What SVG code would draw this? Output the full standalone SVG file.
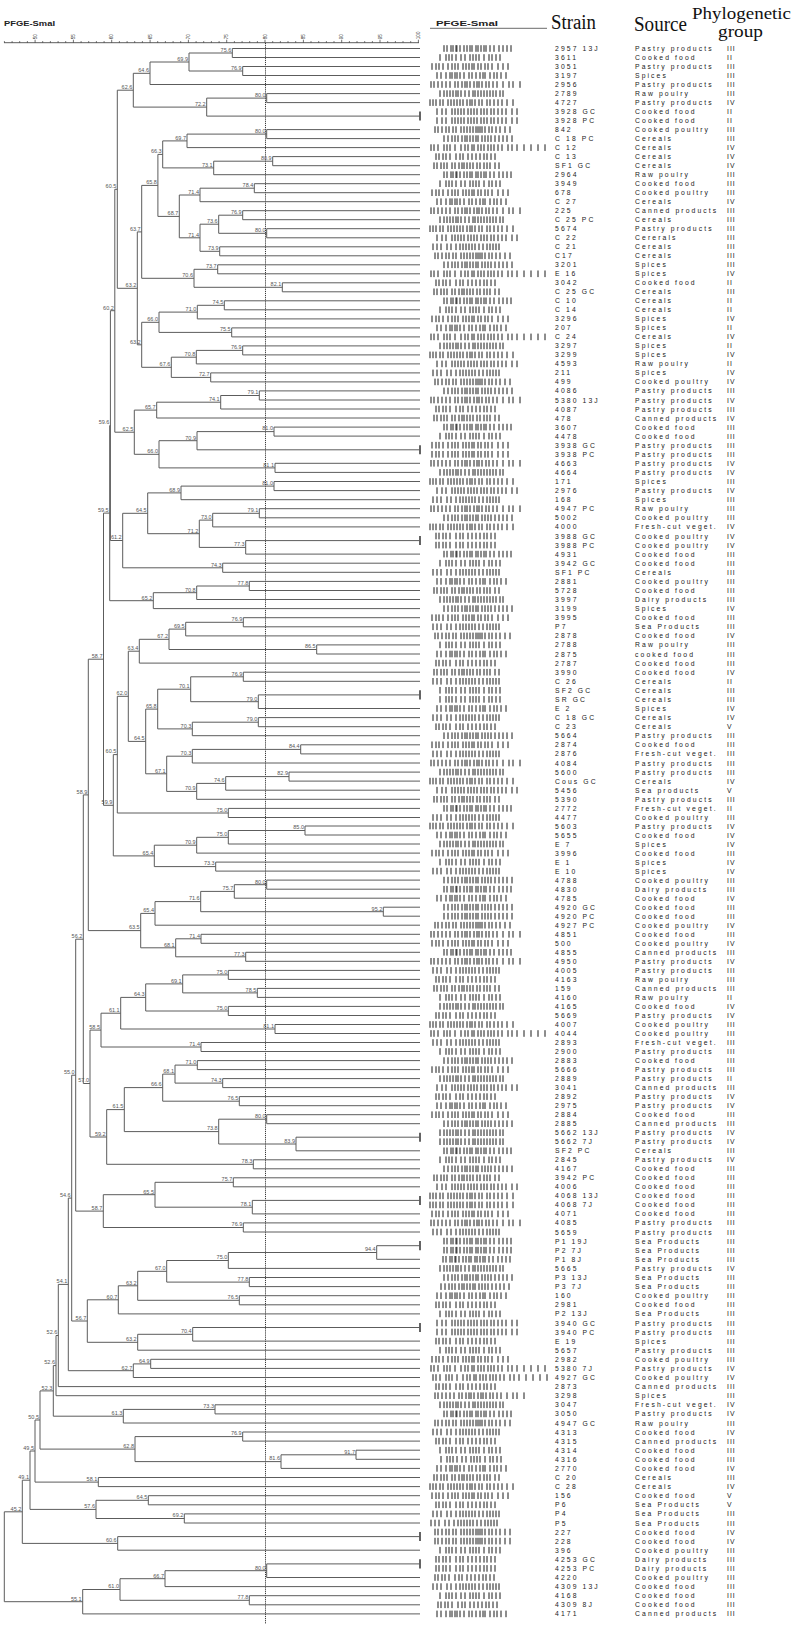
<svg xmlns="http://www.w3.org/2000/svg" width="795" height="1628" viewBox="0 0 795 1628">
<style>
.l{font:5.5px "Liberation Sans",Arial,sans-serif;fill:#555;text-anchor:end}
.tk{font:4.6px "Liberation Sans",Arial,sans-serif;fill:#333}
.hd{font-family:"Liberation Serif","Times New Roman",serif;font-size:20.5px;fill:#111}
.hs{font-family:"Liberation Serif","Times New Roman",serif;font-size:17.5px;fill:#111}
.pf{font:bold 6.6px "Liberation Sans",Arial,sans-serif;fill:#222}
#connectors path{fill:none;stroke:#5c5c5c;stroke-width:1}
#connectors .pb{stroke:#111;stroke-width:1.3}
.bd{fill:none;stroke:#1a1a1a;stroke-width:1}
#rows text{font-family:"Liberation Sans",Arial,sans-serif;font-size:6.8px;letter-spacing:2.1px;fill:#222;dominant-baseline:central}
#rows text:nth-of-type(3){letter-spacing:1px}
</style>
<defs>
<path id="p0" class="bd" d="M434-3.3v6.6M437-3.3v6.6M441-3.3v6.6M444-3.3v6.6M447-3.3v6.6M452-3.3v6.6M455-3.3v6.6M459-3.3v6.6M462-3.3v6.6M464-3.3v6.6M467-3.3v6.6M470-3.3v6.6M473-3.3v6.6M477-3.3v6.6M480-3.3v6.6M484-3.3v6.6M487-3.3v6.6M490-3.3v6.6M495-3.3v6.6M499-3.3v6.6"/>
<path id="p1" class="bd" d="M444-3.3v6.6M447-3.3v6.6M451-3.3v6.6M453-3.3v6.6M456-3.3v6.6M456.9-3.3v6.6M460-3.3v6.6M464-3.3v6.6M467-3.3v6.6M470-3.3v6.6M472-3.3v6.6M476-3.3v6.6M478-3.3v6.6M481-3.3v6.6M484-3.3v6.6M486-3.3v6.6M490-3.3v6.6M494-3.3v6.6M499-3.3v6.6M503-3.3v6.6M507-3.3v6.6M511-3.3v6.6"/>
<path id="p2" class="bd" d="M440-3.3v6.6M446-3.3v6.6M449-3.3v6.6M452-3.3v6.6M456-3.3v6.6M461-3.3v6.6M465-3.3v6.6M470-3.3v6.6M473-3.3v6.6M476-3.3v6.6M479-3.3v6.6M484-3.3v6.6M489-3.3v6.6M492-3.3v6.6M496-3.3v6.6M500-3.3v6.6"/>
<path id="p3" class="bd" d="M432-3.3v6.6M436-3.3v6.6M439-3.3v6.6M443-3.3v6.6M448-3.3v6.6M452-3.3v6.6M455-3.3v6.6M458-3.3v6.6M463-3.3v6.6M466-3.3v6.6M469-3.3v6.6M472-3.3v6.6M474-3.3v6.6M478-3.3v6.6M481-3.3v6.6M485-3.3v6.6M488-3.3v6.6M492-3.3v6.6M498-3.3v6.6M503-3.3v6.6M508-3.3v6.6"/>
<path id="p4" class="bd" d="M437-3.3v6.6M441-3.3v6.6M446-3.3v6.6M450-3.3v6.6M452-3.3v6.6M455-3.3v6.6M457-3.3v6.6M460-3.3v6.6M464-3.3v6.6M469-3.3v6.6M472-3.3v6.6M476-3.3v6.6M480-3.3v6.6M483-3.3v6.6M485-3.3v6.6M490-3.3v6.6M494-3.3v6.6M497-3.3v6.6M501-3.3v6.6M506-3.3v6.6"/>
<path id="p5" class="bd" d="M431-3.3v6.6M434-3.3v6.6M438-3.3v6.6M442-3.3v6.6M446-3.3v6.6M450-3.3v6.6M455-3.3v6.6M458-3.3v6.6M462-3.3v6.6M465-3.3v6.6M467-3.3v6.6M470-3.3v6.6M474-3.3v6.6M477-3.3v6.6M479-3.3v6.6M482-3.3v6.6M486-3.3v6.6M489-3.3v6.6M493-3.3v6.6M497-3.3v6.6M503-3.3v6.6M509-3.3v6.6M513-3.3v6.6M520-3.3v6.6"/>
<path id="p6" class="bd" d="M440-3.3v6.6M444-3.3v6.6M447-3.3v6.6M450-3.3v6.6M453-3.3v6.6M456-3.3v6.6M458-3.3v6.6M461-3.3v6.6M465-3.3v6.6M469-3.3v6.6M473-3.3v6.6M475-3.3v6.6M478-3.3v6.6M481-3.3v6.6M484-3.3v6.6M487-3.3v6.6M490-3.3v6.6M493-3.3v6.6M496-3.3v6.6M500-3.3v6.6M503-3.3v6.6"/>
<path id="p7" class="bd" d="M430-3.3v6.6M433-3.3v6.6M436-3.3v6.6M440-3.3v6.6M443-3.3v6.6M448-3.3v6.6M451-3.3v6.6M454-3.3v6.6M457-3.3v6.6M460-3.3v6.6M463-3.3v6.6M467-3.3v6.6M470-3.3v6.6M472-3.3v6.6M475-3.3v6.6M479-3.3v6.6M482-3.3v6.6M487-3.3v6.6M490-3.3v6.6M494-3.3v6.6M498-3.3v6.6M502-3.3v6.6M507-3.3v6.6M513-3.3v6.6"/>
<path id="p8" class="bd" d="M437-3.3v6.6M442-3.3v6.6M446-3.3v6.6M452-3.3v6.6M455-3.3v6.6M458-3.3v6.6M461-3.3v6.6M464-3.3v6.6M468-3.3v6.6M471-3.3v6.6M474-3.3v6.6M477-3.3v6.6M481-3.3v6.6M484-3.3v6.6M487-3.3v6.6M491-3.3v6.6M494-3.3v6.6M498-3.3v6.6M502-3.3v6.6M506-3.3v6.6M512-3.3v6.6M517-3.3v6.6"/>
<path id="p9" class="bd" d="M433-3.3v6.6M437-3.3v6.6M441-3.3v6.6M447-3.3v6.6M451-3.3v6.6M456-3.3v6.6M460-3.3v6.6M463-3.3v6.6M466-3.3v6.6M469-3.3v6.6M472-3.3v6.6M475-3.3v6.6M479-3.3v6.6M483-3.3v6.6M487-3.3v6.6M490-3.3v6.6M493-3.3v6.6M496-3.3v6.6M499-3.3v6.6"/>
<path id="p10" class="bd" d="M435-3.3v6.6M438-3.3v6.6M442-3.3v6.6M446-3.3v6.6M449-3.3v6.6M453-3.3v6.6M456-3.3v6.6M461-3.3v6.6M464-3.3v6.6M467-3.3v6.6M470-3.3v6.6M473-3.3v6.6M476-3.3v6.6M478-3.3v6.6M480-3.3v6.6M482-3.3v6.6M485-3.3v6.6M489-3.3v6.6M492-3.3v6.6M496-3.3v6.6M500-3.3v6.6M505-3.3v6.6M510-3.3v6.6"/>
<path id="p11" class="bd" d="M444-3.3v6.6M448-3.3v6.6M452-3.3v6.6M455-3.3v6.6M458-3.3v6.6M462-3.3v6.6M465-3.3v6.6M467-3.3v6.6M470-3.3v6.6M473-3.3v6.6M476-3.3v6.6M478-3.3v6.6M482-3.3v6.6M485-3.3v6.6M488-3.3v6.6M491-3.3v6.6M495-3.3v6.6M499-3.3v6.6M503-3.3v6.6M507-3.3v6.6M512-3.3v6.6"/>
<path id="p12" class="bd" d="M431-3.3v6.6M434-3.3v6.6M438-3.3v6.6M444-3.3v6.6M447-3.3v6.6M450-3.3v6.6M455-3.3v6.6M461-3.3v6.6M465-3.3v6.6M468-3.3v6.6M472-3.3v6.6M474-3.3v6.6M478-3.3v6.6M481-3.3v6.6M484-3.3v6.6M488-3.3v6.6M491-3.3v6.6M494-3.3v6.6M498-3.3v6.6M502-3.3v6.6M508-3.3v6.6M512-3.3v6.6M517-3.3v6.6M524-3.3v6.6M531-3.3v6.6M538-3.3v6.6M545-3.3v6.6"/>
<path id="p13" class="bd" d="M436-3.3v6.6M439-3.3v6.6M443-3.3v6.6M446-3.3v6.6M450-3.3v6.6M456-3.3v6.6M460-3.3v6.6M463-3.3v6.6M468-3.3v6.6M472-3.3v6.6M476-3.3v6.6M480-3.3v6.6M484-3.3v6.6M487-3.3v6.6M491-3.3v6.6M495-3.3v6.6"/>
</defs>
<rect width="795" height="1628" fill="#fff"/>
<g id="header">
<text class="pf" x="4" y="25.8" textLength="51" lengthAdjust="spacingAndGlyphs">PFGE-SmaI</text>
<text class="pf" x="436" y="26" textLength="62" lengthAdjust="spacingAndGlyphs">PFGE-SmaI</text>
<path d="M430 28.4H547" stroke="#888" stroke-width="1.2"/>
<text class="hd" x="551" y="28.8" textLength="45" lengthAdjust="spacingAndGlyphs">Strain</text>
<text class="hd" x="634" y="31.2" textLength="53" lengthAdjust="spacingAndGlyphs">Source</text>
<text class="hs" x="692" y="18.6" textLength="99" lengthAdjust="spacingAndGlyphs">Phylogenetic</text>
<text class="hs" x="718" y="37.4" textLength="45" lengthAdjust="spacingAndGlyphs">group</text>
</g>
<g id="ruler">
<path d="M4 42.7H419" stroke="#333" stroke-width="0.8" fill="none"/>
<path stroke="#333" stroke-width="0.7" fill="none" d="M4.4 42.7v-1.6M12.1 42.7v-1.6M19.7 42.7v-1.6M27.4 42.7v-1.6M42.7 42.7v-1.6M50.4 42.7v-1.6M58.1 42.7v-1.6M65.7 42.7v-1.6M81.1 42.7v-1.6M88.7 42.7v-1.6M96.4 42.7v-1.6M104.1 42.7v-1.6M119.4 42.7v-1.6M127.1 42.7v-1.6M134.7 42.7v-1.6M142.4 42.7v-1.6M157.7 42.7v-1.6M165.4 42.7v-1.6M173.1 42.7v-1.6M180.7 42.7v-1.6M196.1 42.7v-1.6M203.7 42.7v-1.6M211.4 42.7v-1.6M219.1 42.7v-1.6M234.4 42.7v-1.6M242.1 42.7v-1.6M249.7 42.7v-1.6M257.4 42.7v-1.6M272.7 42.7v-1.6M280.4 42.7v-1.6M288 42.7v-1.6M295.7 42.7v-1.6M311 42.7v-1.6M318.7 42.7v-1.6M326.4 42.7v-1.6M334 42.7v-1.6M349.4 42.7v-1.6M357 42.7v-1.6M364.7 42.7v-1.6M372.4 42.7v-1.6M387.7 42.7v-1.6M395.4 42.7v-1.6M403 42.7v-1.6M410.7 42.7v-1.6M35.1 42.7v-3M73.4 42.7v-3M111.7 42.7v-3M150.1 42.7v-3M188.4 42.7v-3M226.7 42.7v-3M265 42.7v-3M303.4 42.7v-3M341.7 42.7v-3M380 42.7v-3M418.4 42.7v-3"/>
<text class="tk" transform="translate(36.8,39.2) rotate(-90)">50</text>
<text class="tk" transform="translate(75.1,39.2) rotate(-90)">55</text>
<text class="tk" transform="translate(113.4,39.2) rotate(-90)">60</text>
<text class="tk" transform="translate(151.8,39.2) rotate(-90)">65</text>
<text class="tk" transform="translate(190.1,39.2) rotate(-90)">70</text>
<text class="tk" transform="translate(228.4,39.2) rotate(-90)">75</text>
<text class="tk" transform="translate(266.7,39.2) rotate(-90)">80</text>
<text class="tk" transform="translate(305.1,39.2) rotate(-90)">85</text>
<text class="tk" transform="translate(343.4,39.2) rotate(-90)">90</text>
<text class="tk" transform="translate(381.7,39.2) rotate(-90)">95</text>
<text class="tk" transform="translate(420.1,39.2) rotate(-90)">100</text>
<path d="M265.5 43V1624" stroke="#222" stroke-width="0.9" stroke-dasharray="1.2 0.9" fill="none"/>
</g>
<g id="connectors">
<path class="pb" d="M420 111.6V120.6M420 445.2V454.3M420 536V545.1M420 690.3V699.4M420 1132.7V1141.7M420 1195.9V1204.9M420 1241.1V1250.2M420 1323V1332M420 1532V1541.1M420 1559.3V1568.4"/>
<path d="M420 48.5H232.3V57.5H420"/>
<path d="M420 66.5H242.7V75.5H420"/>
<path d="M232.3 53H189V71H242.7"/>
<path d="M189 62H150V84.5H420"/>
<path d="M420 93.6H266.7V102.6H420"/>
<path d="M266.7 98.1H206.7V116.1H420"/>
<path d="M150 73.3H133.3V107.1H206.7"/>
<path d="M420 129.6H266.7V138.6H420"/>
<path d="M266.7 134.1H187V147.6H420"/>
<path d="M420 156.6H272.7V165.7H420"/>
<path d="M272.7 161.2H213.7V174.7H420"/>
<path d="M187 140.9H162.7V167.9H213.7"/>
<path d="M420 183.7H254.3V192.7H420"/>
<path d="M254.3 188.2H200V201.7H420"/>
<path d="M420 210.7H242.7V219.7H420"/>
<path d="M420 228.7H266.7V237.8H420"/>
<path d="M242.7 215.2H218.7V233.3H266.7"/>
<path d="M420 246.8H219.7V255.8H420"/>
<path d="M218.7 224.2H200V251.3H219.7"/>
<path d="M200 195H179.3V237.8H200"/>
<path d="M162.7 154.4H157.9V216.4H179.3"/>
<path d="M420 264.8H217.7V273.8H420"/>
<path d="M420 282.8H282.3V291.8H420"/>
<path d="M217.7 269.3H194V287.3H282.3"/>
<path d="M157.9 185.4H141.7V278.3H194"/>
<path d="M420 300.8H224.3V309.8H420"/>
<path d="M224.3 305.3H197.3V318.9H420"/>
<path d="M420 327.9H231.7V336.9H420"/>
<path d="M197.3 312.1H159V332.4H231.7"/>
<path d="M420 345.9H242.7V354.9H420"/>
<path d="M242.7 350.4H196.3V363.9H420"/>
<path d="M420 372.9H210.7V381.9H420"/>
<path d="M196.3 357.2H171.3V377.4H210.7"/>
<path d="M159 322.3H141.7V367.3H171.3"/>
<path d="M141.7 231.9H137.3V344.8H141.7"/>
<path d="M133.3 90.2H117.3V288.3H137.3"/>
<path d="M420 390.9H259.3V400H420"/>
<path d="M259.3 395.5H220.7V409H420"/>
<path d="M220.7 402.2H156.7V418H420"/>
<path d="M420 427.1H274V436.1H420"/>
<path d="M274 431.6H197V449.8H420"/>
<path d="M420 463.3H275V472.4H420"/>
<path d="M197 440.7H159V467.9H275"/>
<path d="M156.7 410.1H134.3V454.3H159"/>
<path d="M117.3 189.3H114.8V432.2H134.3"/>
<path d="M420 481.5H274V490.6H420"/>
<path d="M274 486.1H181V499.7H420"/>
<path d="M420 508.7H259.3V517.8H420"/>
<path d="M259.3 513.3H212.7V526.9H420"/>
<path d="M420 540.6H245.7V554.1H420"/>
<path d="M212.7 520.1H199.3V547.4H245.7"/>
<path d="M181 492.9H147.7V533.7H199.3"/>
<path d="M420 563.2H222.7V572.3H420"/>
<path d="M147.7 513.3H122.7V567.8H222.7"/>
<path d="M114.8 310.7H110.4V540.5H122.7"/>
<path d="M420 581.4H249.3V590.5H420"/>
<path d="M249.3 586H196.7V599.5H420"/>
<path d="M196.7 592.7H153.3V608.6H420"/>
<path d="M110.4 425.6H109.7V600.7H153.3"/>
<path d="M420 617.7H243.3V626.8H420"/>
<path d="M243.3 622.3H185.7V635.9H420"/>
<path d="M420 644.9H316.7V654H420"/>
<path d="M185.7 629.1H169V649.5H316.7"/>
<path d="M169 639.3H139.3V663.1H420"/>
<path d="M420 672.2H243.3V681.3H420"/>
<path d="M420 694.9H258.3V708.5H420"/>
<path d="M243.3 676.8H190.7V701.7H258.3"/>
<path d="M420 717.6H258.3V726.7H420"/>
<path d="M258.3 722.2H192.3V735.7H420"/>
<path d="M190.7 689.2H157.7V728.9H192.3"/>
<path d="M420 744.8H300.7V753.9H420"/>
<path d="M300.7 749.4H192.3V763H420"/>
<path d="M420 772.1H289V781.1H420"/>
<path d="M289 776.6H225.7V790.2H420"/>
<path d="M225.7 783.4H196.7V799.3H420"/>
<path d="M192.3 756.2H166.7V791.4H196.7"/>
<path d="M157.7 709.1H145.7V773.8H166.7"/>
<path d="M139.3 651.2H128.3V741.4H145.7"/>
<path d="M420 808.4H228.3V817.5H420"/>
<path d="M128.3 696.3H117.3V813H228.3"/>
<path d="M420 826H305V835H420"/>
<path d="M305 830.5H228.3V844H420"/>
<path d="M228.3 837.3H196.7V853.1H420"/>
<path d="M420 862.1H215.7V871.1H420"/>
<path d="M196.7 845.2H154.3V866.6H215.7"/>
<path d="M117.3 754.6H113.3V855.9H154.3"/>
<path d="M109.7 513.1H103.5V805.3H113.3"/>
<path d="M420 880.1H266.7V889.2H420"/>
<path d="M266.7 884.7H234.3V898.2H420"/>
<path d="M420 907.2H383.3V916.2H420"/>
<path d="M234.3 891.4H200.7V911.7H383.3"/>
<path d="M200.7 901.6H155V925.2H420"/>
<path d="M420 934.3H201V943.3H420"/>
<path d="M420 952.3H245.7V961.3H420"/>
<path d="M201 938.8H175.7V956.8H245.7"/>
<path d="M155 913.4H140.7V947.8H175.7"/>
<path d="M103.5 659.2H88.3V930.6H140.7"/>
<path d="M420 970.4H228.3V979.4H420"/>
<path d="M420 988.4H257.3V997.4H420"/>
<path d="M228.3 974.9H182.7V992.9H257.3"/>
<path d="M420 1006.4H228.3V1015.5H420"/>
<path d="M182.7 983.9H145.7V1011H228.3"/>
<path d="M420 1024.5H275V1033.5H420"/>
<path d="M145.7 997.4H120.7V1029H275"/>
<path d="M420 1042.5H201V1051.5H420"/>
<path d="M120.7 1013.2H101V1047H201"/>
<path d="M420 1060.6H197.3V1069.6H420"/>
<path d="M420 1078.6H222.7V1087.6H420"/>
<path d="M197.3 1065.1H175V1083.1H222.7"/>
<path d="M420 1096.6H239.3V1105.7H420"/>
<path d="M175 1074.1H162.7V1101.2H239.3"/>
<path d="M420 1114.7H266.7V1123.7H420"/>
<path d="M420 1137.2H296V1150.8H420"/>
<path d="M266.7 1119.2H218.7V1144H296"/>
<path d="M162.7 1087.6H124.3V1131.6H218.7"/>
<path d="M420 1159.8H253.3V1168.8H420"/>
<path d="M124.3 1109.6H106.7V1164.3H253.3"/>
<path d="M101 1030.1H90V1137H106.7"/>
<path d="M88.3 794.9H83.3V1083.5H90"/>
<path d="M420 1177.8H233.3V1186.8H420"/>
<path d="M420 1200.4H252.3V1213.9H420"/>
<path d="M233.3 1182.3H155V1207.2H252.3"/>
<path d="M420 1222.9H243.3V1232H420"/>
<path d="M155 1194.7H103.3V1227.5H243.3"/>
<path d="M83.3 939.2H75.7V1211.1H103.3"/>
<path d="M420 1245.7H376.7V1259.3H420"/>
<path d="M376.7 1252.5H228.3V1268.4H420"/>
<path d="M420 1277.5H249.3V1286.6H420"/>
<path d="M228.3 1260.5H166.7V1282.1H249.3"/>
<path d="M420 1295.7H239.3V1304.8H420"/>
<path d="M166.7 1271.3H137.7V1300.3H239.3"/>
<path d="M137.7 1285.8H118.3V1313.9H420"/>
<path d="M420 1327.5H192.7V1341.1H420"/>
<path d="M192.7 1334.3H137.7V1350.2H420"/>
<path d="M118.3 1299.8H87.3V1342.3H137.7"/>
<path d="M75.7 1075.2H71.7V1321H87.3"/>
<path d="M420 1359.3H150.7V1368.4H420"/>
<path d="M150.7 1363.9H133.3V1377.5H420"/>
<path d="M71.7 1198.1H68.3V1370.7H133.3"/>
<path d="M68.3 1284.4H58.3V1386.6H420"/>
<path d="M58.3 1335.5H56V1395.7H420"/>
<path d="M420 1404.8H215V1413.9H420"/>
<path d="M215 1409.4H123.3V1423H420"/>
<path d="M56 1365.6H53.3V1416.2H123.3"/>
<path d="M420 1432H242.7V1441.1H420"/>
<path d="M420 1450.2H356V1459.3H420"/>
<path d="M356 1454.8H281V1468.4H420"/>
<path d="M242.7 1436.6H135V1461.6H281"/>
<path d="M53.3 1390.9H40V1449.1H135"/>
<path d="M420 1477.5H98.3V1486.6H420"/>
<path d="M40 1420H35V1482.1H98.3"/>
<path d="M420 1495.7H148.3V1504.8H420"/>
<path d="M420 1513.9H184.3V1523H420"/>
<path d="M148.3 1500.3H96V1518.5H184.3"/>
<path d="M35 1451H30V1509.4H96"/>
<path d="M420 1536.6H117.7V1550.2H420"/>
<path d="M30 1480.2H22.3V1543.4H117.7"/>
<path d="M420 1563.9H266.7V1577.5H420"/>
<path d="M266.7 1570.7H165V1586.6H420"/>
<path d="M420 1595.7H249.3V1604.8H420"/>
<path d="M165 1578.7H120V1600.3H249.3"/>
<path d="M120 1589.5H82.7V1613.9H420"/>
<path d="M22.3 1511.8H4.3V1601.7H82.7"/>
</g>
<g id="similarity-labels" class="l">
<text x="231.3" y="51.8">75.6</text><text x="241.7" y="69.8">76.9</text><text x="188" y="60.8">69.9</text><text x="149" y="72.1">64.6</text><text x="265.7" y="96.9">80.0</text><text x="205.7" y="105.9">72.2</text><text x="132.3" y="89">62.6</text><text x="265.7" y="132.9">80.0</text><text x="186" y="139.7">69.7</text><text x="271.7" y="160">80.9</text><text x="212.7" y="166.7">73.1</text><text x="161.7" y="153.2">66.3</text><text x="253.3" y="187">78.4</text><text x="199" y="193.8">71.4</text><text x="241.7" y="214">76.9</text><text x="265.7" y="232.1">80.0</text><text x="217.7" y="223">73.6</text><text x="218.7" y="250.1">73.9</text><text x="199" y="236.6">71.4</text><text x="178.3" y="215.2">68.7</text><text x="156.9" y="184.2">65.8</text><text x="216.7" y="268.1">73.7</text><text x="281.3" y="286.1">82.1</text><text x="193" y="277.1">70.6</text><text x="140.7" y="230.7">63.7</text><text x="223.3" y="304.1">74.5</text><text x="196.3" y="310.9">71.0</text><text x="230.7" y="331.2">75.5</text><text x="158" y="321.1">66.0</text><text x="241.7" y="349.2">76.9</text><text x="195.3" y="356">70.8</text><text x="209.7" y="376.2">72.7</text><text x="170.3" y="366.1">67.6</text><text x="140.7" y="343.6">63.2</text><text x="136.3" y="287.1">63.2</text><text x="116.3" y="188.1">60.5</text><text x="258.3" y="394.3">79.1</text><text x="219.7" y="401">74.1</text><text x="155.7" y="408.9">65.7</text><text x="273" y="430.4">81.0</text><text x="196" y="439.5">70.9</text><text x="274" y="466.7">81.1</text><text x="158" y="453.1">66.0</text><text x="133.3" y="431">62.5</text><text x="113.8" y="309.5">60.2</text><text x="273" y="484.9">81.0</text><text x="180" y="491.7">68.9</text><text x="258.3" y="512.1">79.1</text><text x="211.7" y="518.9">73.0</text><text x="244.7" y="546.2">77.3</text><text x="198.3" y="532.5">71.2</text><text x="146.7" y="512.1">64.5</text><text x="221.7" y="566.6">74.3</text><text x="121.7" y="539.3">61.2</text><text x="109.4" y="424.4">59.6</text><text x="248.3" y="584.8">77.8</text><text x="195.7" y="591.5">70.8</text><text x="152.3" y="599.5">65.2</text><text x="108.7" y="511.9">59.5</text><text x="242.3" y="621.1">76.9</text><text x="184.7" y="627.9">69.5</text><text x="315.7" y="648.3">86.5</text><text x="168" y="638.1">67.2</text><text x="138.3" y="650">63.4</text><text x="242.3" y="675.6">76.9</text><text x="257.3" y="700.5">79.0</text><text x="189.7" y="688">70.1</text><text x="257.3" y="721">79.0</text><text x="191.3" y="727.7">70.3</text><text x="156.7" y="707.9">65.8</text><text x="299.7" y="748.2">84.4</text><text x="191.3" y="755">70.3</text><text x="288" y="775.4">82.9</text><text x="224.7" y="782.2">74.6</text><text x="195.7" y="790.2">70.9</text><text x="165.7" y="772.6">67.1</text><text x="144.7" y="740.2">64.5</text><text x="127.3" y="695.1">62.0</text><text x="227.3" y="811.8">75.0</text><text x="116.3" y="753.4">60.5</text><text x="304" y="829.3">85.0</text><text x="227.3" y="836.1">75.0</text><text x="195.7" y="844">70.9</text><text x="214.7" y="865.4">73.3</text><text x="153.3" y="854.7">65.4</text><text x="112.3" y="804.1">59.9</text><text x="102.5" y="658">58.7</text><text x="265.7" y="883.5">80.0</text><text x="233.3" y="890.2">75.7</text><text x="382.3" y="910.5">95.2</text><text x="199.7" y="900.4">71.6</text><text x="154" y="912.2">65.4</text><text x="200" y="937.6">71.4</text><text x="244.7" y="955.6">77.3</text><text x="174.7" y="946.6">68.1</text><text x="139.7" y="929.4">63.5</text><text x="87.3" y="793.7">58.9</text><text x="227.3" y="973.7">75.0</text><text x="256.3" y="991.7">78.5</text><text x="181.7" y="982.7">69.1</text><text x="227.3" y="1009.8">75.0</text><text x="144.7" y="996.2">64.3</text><text x="274" y="1027.8">81.1</text><text x="119.7" y="1012">61.1</text><text x="200" y="1045.8">71.4</text><text x="100" y="1028.9">58.5</text><text x="196.3" y="1063.9">71.0</text><text x="221.7" y="1081.9">74.3</text><text x="174" y="1072.9">68.1</text><text x="238.3" y="1100">76.5</text><text x="161.7" y="1086.4">66.6</text><text x="265.7" y="1118">80.0</text><text x="295" y="1142.8">83.9</text><text x="217.7" y="1130.4">73.8</text><text x="123.3" y="1108.4">61.5</text><text x="252.3" y="1163.1">78.3</text><text x="105.7" y="1135.8">59.2</text><text x="89" y="1082.3">57.0</text><text x="82.3" y="938">56.2</text><text x="232.3" y="1181.1">75.7</text><text x="251.3" y="1206">78.1</text><text x="154" y="1193.5">65.5</text><text x="242.3" y="1226.3">76.9</text><text x="102.3" y="1209.9">58.7</text><text x="74.7" y="1074">55.0</text><text x="375.7" y="1251.3">94.4</text><text x="227.3" y="1259.3">75.0</text><text x="248.3" y="1280.9">77.8</text><text x="165.7" y="1270.1">67.0</text><text x="238.3" y="1299.1">76.5</text><text x="136.7" y="1284.6">63.2</text><text x="117.3" y="1298.6">60.7</text><text x="191.7" y="1333.1">70.4</text><text x="136.7" y="1341.1">63.2</text><text x="86.3" y="1319.8">56.7</text><text x="70.7" y="1196.9">54.6</text><text x="149.7" y="1362.7">64.9</text><text x="132.3" y="1369.5">62.7</text><text x="67.3" y="1283.2">54.1</text><text x="57.3" y="1334.3">52.6</text><text x="55" y="1364.4">52.6</text><text x="214" y="1408.2">73.3</text><text x="122.3" y="1415">61.3</text><text x="52.3" y="1389.7">52.3</text><text x="241.7" y="1435.4">76.9</text><text x="355" y="1453.6">91.7</text><text x="280" y="1460.4">81.6</text><text x="134" y="1447.9">62.8</text><text x="39" y="1418.8">50.5</text><text x="97.3" y="1480.9">58.1</text><text x="34" y="1449.8">49.5</text><text x="147.3" y="1499.1">64.5</text><text x="183.3" y="1517.3">69.2</text><text x="95" y="1508.2">57.6</text><text x="29" y="1479">49.1</text><text x="116.7" y="1542.2">60.6</text><text x="21.3" y="1510.6">45.2</text><text x="265.7" y="1569.5">80.0</text><text x="164" y="1577.5">66.7</text><text x="248.3" y="1599.1">77.8</text><text x="119" y="1588.3">61.0</text><text x="81.7" y="1600.5">55.1</text>
</g>
<g id="rows">
<g id="r1" transform="translate(0,48.5)"><use href="#p1"/><text x="555">2957 13J</text><text x="635">Pastry products</text><text x="727">III</text></g>
<g id="r2" transform="translate(0,57.5)"><use href="#p2"/><text x="555">3611</text><text x="635">Cooked food</text><text x="727">II</text></g>
<g id="r3" transform="translate(0,66.5)"><use href="#p3"/><text x="555">3051</text><text x="635">Pastry products</text><text x="727">III</text></g>
<g id="r4" transform="translate(0,75.5)"><use href="#p4"/><text x="555">3197</text><text x="635">Spices</text><text x="727">III</text></g>
<g id="r5" transform="translate(0,84.5)"><use href="#p5"/><text x="555">2956</text><text x="635">Pastry products</text><text x="727">III</text></g>
<g id="r6" transform="translate(0,93.6)"><use href="#p6"/><text x="555">2789</text><text x="635">Raw poulry</text><text x="727">III</text></g>
<g id="r7" transform="translate(0,102.6)"><use href="#p7"/><text x="555">4727</text><text x="635">Pastry products</text><text x="727">IV</text></g>
<g id="r8" transform="translate(0,111.6)"><use href="#p8"/><text x="555">3928 GC</text><text x="635">Cooked food</text><text x="727">II</text></g>
<g id="r9" transform="translate(0,120.6)"><use href="#p8"/><text x="555">3928 PC</text><text x="635">Cooked food</text><text x="727">II</text></g>
<g id="r10" transform="translate(0,129.6)"><use href="#p10"/><text x="555">842</text><text x="635">Cooked poultry</text><text x="727">III</text></g>
<g id="r11" transform="translate(0,138.6)"><use href="#p11"/><text x="555">C 18 PC</text><text x="635">Cereals</text><text x="727">III</text></g>
<g id="r12" transform="translate(0,147.6)"><use href="#p12"/><text x="555">C 12</text><text x="635">Cereals</text><text x="727">IV</text></g>
<g id="r13" transform="translate(0,156.6)"><use href="#p13"/><text x="555">C 13</text><text x="635">Cereals</text><text x="727">IV</text></g>
<g id="r14" transform="translate(0,165.7)"><use href="#p0"/><text x="555">SF1 GC</text><text x="635">Cereals</text><text x="727">IV</text></g>
<g id="r15" transform="translate(0,174.7)"><use href="#p1"/><text x="555">2964</text><text x="635">Raw poulry</text><text x="727">III</text></g>
<g id="r16" transform="translate(0,183.7)"><use href="#p2"/><text x="555">3949</text><text x="635">Cooked food</text><text x="727">III</text></g>
<g id="r17" transform="translate(0,192.7)"><use href="#p3"/><text x="555">678</text><text x="635">Cooked poultry</text><text x="727">III</text></g>
<g id="r18" transform="translate(0,201.7)"><use href="#p4"/><text x="555">C 27</text><text x="635">Cereals</text><text x="727">IV</text></g>
<g id="r19" transform="translate(0,210.7)"><use href="#p5"/><text x="555">225</text><text x="635">Canned products</text><text x="727">III</text></g>
<g id="r20" transform="translate(0,219.7)"><use href="#p6"/><text x="555">C 25 PC</text><text x="635">Cereals</text><text x="727">III</text></g>
<g id="r21" transform="translate(0,228.7)"><use href="#p7"/><text x="555">5674</text><text x="635">Pastry products</text><text x="727">III</text></g>
<g id="r22" transform="translate(0,237.8)"><use href="#p8"/><text x="555">C 22</text><text x="635">Cererals</text><text x="727">III</text></g>
<g id="r23" transform="translate(0,246.8)"><use href="#p9"/><text x="555">C 21</text><text x="635">Cereals</text><text x="727">III</text></g>
<g id="r24" transform="translate(0,255.8)"><use href="#p10"/><text x="555">C17</text><text x="635">Cereals</text><text x="727">III</text></g>
<g id="r25" transform="translate(0,264.8)"><use href="#p11"/><text x="555">3201</text><text x="635">Spices</text><text x="727">III</text></g>
<g id="r26" transform="translate(0,273.8)"><use href="#p12"/><text x="555">E 16</text><text x="635">Spices</text><text x="727">IV</text></g>
<g id="r27" transform="translate(0,282.8)"><use href="#p13"/><text x="555">3042</text><text x="635">Cooked food</text><text x="727">II</text></g>
<g id="r28" transform="translate(0,291.8)"><use href="#p0"/><text x="555">C 25 GC</text><text x="635">Cereals</text><text x="727">III</text></g>
<g id="r29" transform="translate(0,300.8)"><use href="#p1"/><text x="555">C 10</text><text x="635">Cereals</text><text x="727">II</text></g>
<g id="r30" transform="translate(0,309.8)"><use href="#p2"/><text x="555">C 14</text><text x="635">Cereals</text><text x="727">II</text></g>
<g id="r31" transform="translate(0,318.9)"><use href="#p3"/><text x="555">3296</text><text x="635">Spices</text><text x="727">IV</text></g>
<g id="r32" transform="translate(0,327.9)"><use href="#p4"/><text x="555">207</text><text x="635">Spices</text><text x="727">II</text></g>
<g id="r33" transform="translate(0,336.9)"><use href="#p12"/><text x="555">C 24</text><text x="635">Cereals</text><text x="727">IV</text></g>
<g id="r34" transform="translate(0,345.9)"><use href="#p6"/><text x="555">3297</text><text x="635">Spices</text><text x="727">II</text></g>
<g id="r35" transform="translate(0,354.9)"><use href="#p7"/><text x="555">3299</text><text x="635">Spices</text><text x="727">IV</text></g>
<g id="r36" transform="translate(0,363.9)"><use href="#p8"/><text x="555">4593</text><text x="635">Raw poulry</text><text x="727">II</text></g>
<g id="r37" transform="translate(0,372.9)"><use href="#p9"/><text x="555">211</text><text x="635">Spices</text><text x="727">IV</text></g>
<g id="r38" transform="translate(0,381.9)"><use href="#p10"/><text x="555">499</text><text x="635">Cooked poultry</text><text x="727">IV</text></g>
<g id="r39" transform="translate(0,390.9)"><use href="#p11"/><text x="555">4086</text><text x="635">Pastry products</text><text x="727">III</text></g>
<g id="r40" transform="translate(0,400)"><use href="#p5"/><text x="555">5380 13J</text><text x="635">Pastry products</text><text x="727">IV</text></g>
<g id="r41" transform="translate(0,409)"><use href="#p13"/><text x="555">4087</text><text x="635">Pastry products</text><text x="727">III</text></g>
<g id="r42" transform="translate(0,418)"><use href="#p0"/><text x="555">478</text><text x="635">Canned products</text><text x="727">IV</text></g>
<g id="r43" transform="translate(0,427.1)"><use href="#p1"/><text x="555">3607</text><text x="635">Cooked food</text><text x="727">III</text></g>
<g id="r44" transform="translate(0,436.1)"><use href="#p2"/><text x="555">4478</text><text x="635">Cooked food</text><text x="727">III</text></g>
<g id="r45" transform="translate(0,445.2)"><use href="#p3"/><text x="555">3938 GC</text><text x="635">Pastry products</text><text x="727">III</text></g>
<g id="r46" transform="translate(0,454.3)"><use href="#p3"/><text x="555">3938 PC</text><text x="635">Pastry products</text><text x="727">III</text></g>
<g id="r47" transform="translate(0,463.3)"><use href="#p5"/><text x="555">4663</text><text x="635">Pastry products</text><text x="727">IV</text></g>
<g id="r48" transform="translate(0,472.4)"><use href="#p6"/><text x="555">4664</text><text x="635">Pastry products</text><text x="727">IV</text></g>
<g id="r49" transform="translate(0,481.5)"><use href="#p7"/><text x="555">171</text><text x="635">Spices</text><text x="727">III</text></g>
<g id="r50" transform="translate(0,490.6)"><use href="#p8"/><text x="555">2976</text><text x="635">Pastry products</text><text x="727">IV</text></g>
<g id="r51" transform="translate(0,499.7)"><use href="#p9"/><text x="555">168</text><text x="635">Spices</text><text x="727">III</text></g>
<g id="r52" transform="translate(0,508.7)"><use href="#p5"/><text x="555">4947 PC</text><text x="635">Raw poulry</text><text x="727">III</text></g>
<g id="r53" transform="translate(0,517.8)"><use href="#p11"/><text x="555">5002</text><text x="635">Cooked poultry</text><text x="727">III</text></g>
<g id="r54" transform="translate(0,526.9)"><use href="#p7"/><text x="555">4000</text><text x="635">Fresh-cut veget.</text><text x="727">IV</text></g>
<g id="r55" transform="translate(0,536)"><use href="#p13"/><text x="555">3988 GC</text><text x="635">Cooked poultry</text><text x="727">IV</text></g>
<g id="r56" transform="translate(0,545.1)"><use href="#p13"/><text x="555">3988 PC</text><text x="635">Cooked poultry</text><text x="727">IV</text></g>
<g id="r57" transform="translate(0,554.1)"><use href="#p1"/><text x="555">4931</text><text x="635">Cooked food</text><text x="727">III</text></g>
<g id="r58" transform="translate(0,563.2)"><use href="#p2"/><text x="555">3942 GC</text><text x="635">Cooked food</text><text x="727">III</text></g>
<g id="r59" transform="translate(0,572.3)"><use href="#p9"/><text x="555">SF1 PC</text><text x="635">Cereals</text><text x="727">III</text></g>
<g id="r60" transform="translate(0,581.4)"><use href="#p4"/><text x="555">2881</text><text x="635">Cooked poultry</text><text x="727">III</text></g>
<g id="r61" transform="translate(0,590.5)"><use href="#p0"/><text x="555">5728</text><text x="635">Cooked food</text><text x="727">III</text></g>
<g id="r62" transform="translate(0,599.5)"><use href="#p6"/><text x="555">3997</text><text x="635">Dairy products</text><text x="727">III</text></g>
<g id="r63" transform="translate(0,608.6)"><use href="#p11"/><text x="555">3199</text><text x="635">Spices</text><text x="727">IV</text></g>
<g id="r64" transform="translate(0,617.7)"><use href="#p3"/><text x="555">3995</text><text x="635">Cooked food</text><text x="727">III</text></g>
<g id="r65" transform="translate(0,626.8)"><use href="#p9"/><text x="555">P7</text><text x="635">Sea Products</text><text x="727">III</text></g>
<g id="r66" transform="translate(0,635.9)"><use href="#p10"/><text x="555">2878</text><text x="635">Cooked food</text><text x="727">IV</text></g>
<g id="r67" transform="translate(0,644.9)"><use href="#p2"/><text x="555">2788</text><text x="635">Raw poulry</text><text x="727">III</text></g>
<g id="r68" transform="translate(0,654)"><use href="#p4"/><text x="555">2875</text><text x="635">cooked food</text><text x="727">III</text></g>
<g id="r69" transform="translate(0,663.1)"><use href="#p13"/><text x="555">2787</text><text x="635">Cooked food</text><text x="727">III</text></g>
<g id="r70" transform="translate(0,672.2)"><use href="#p0"/><text x="555">3990</text><text x="635">Cooked food</text><text x="727">IV</text></g>
<g id="r71" transform="translate(0,681.3)"><use href="#p9"/><text x="555">C 26</text><text x="635">Cereals</text><text x="727">II</text></g>
<g id="r72" transform="translate(0,690.3)"><use href="#p2"/><text x="555">SF2 GC</text><text x="635">Cereals</text><text x="727">III</text></g>
<g id="r73" transform="translate(0,699.4)"><use href="#p2"/><text x="555">SR GC</text><text x="635">Cereals</text><text x="727">III</text></g>
<g id="r74" transform="translate(0,708.5)"><use href="#p4"/><text x="555">E 2</text><text x="635">Spices</text><text x="727">IV</text></g>
<g id="r75" transform="translate(0,717.6)"><use href="#p9"/><text x="555">C 18 GC</text><text x="635">Cereals</text><text x="727">IV</text></g>
<g id="r76" transform="translate(0,726.7)"><use href="#p13"/><text x="555">C 23</text><text x="635">Cereals</text><text x="727">V</text></g>
<g id="r77" transform="translate(0,735.7)"><use href="#p11"/><text x="555">5664</text><text x="635">Pastry products</text><text x="727">III</text></g>
<g id="r78" transform="translate(0,744.8)"><use href="#p3"/><text x="555">2874</text><text x="635">Cooked food</text><text x="727">III</text></g>
<g id="r79" transform="translate(0,753.9)"><use href="#p9"/><text x="555">2876</text><text x="635">Fresh-cut veget.</text><text x="727">III</text></g>
<g id="r80" transform="translate(0,763)"><use href="#p5"/><text x="555">4084</text><text x="635">Pastry products</text><text x="727">III</text></g>
<g id="r81" transform="translate(0,772.1)"><use href="#p6"/><text x="555">5600</text><text x="635">Pastry products</text><text x="727">III</text></g>
<g id="r82" transform="translate(0,781.1)"><use href="#p7"/><text x="555">Cous GC</text><text x="635">Cereals</text><text x="727">IV</text></g>
<g id="r83" transform="translate(0,790.2)"><use href="#p8"/><text x="555">5456</text><text x="635">Sea products</text><text x="727">V</text></g>
<g id="r84" transform="translate(0,799.3)"><use href="#p0"/><text x="555">5390</text><text x="635">Pastry products</text><text x="727">III</text></g>
<g id="r85" transform="translate(0,808.4)"><use href="#p1"/><text x="555">2772</text><text x="635">Fresh-cut veget.</text><text x="727">II</text></g>
<g id="r86" transform="translate(0,817.5)"><use href="#p9"/><text x="555">4477</text><text x="635">Cooked poultry</text><text x="727">III</text></g>
<g id="r87" transform="translate(0,826)"><use href="#p7"/><text x="555">5603</text><text x="635">Pastry products</text><text x="727">IV</text></g>
<g id="r88" transform="translate(0,835)"><use href="#p4"/><text x="555">5655</text><text x="635">Cooked food</text><text x="727">IV</text></g>
<g id="r89" transform="translate(0,844)"><use href="#p6"/><text x="555">E 7</text><text x="635">Spices</text><text x="727">IV</text></g>
<g id="r90" transform="translate(0,853.1)"><use href="#p3"/><text x="555">3996</text><text x="635">Cooked food</text><text x="727">III</text></g>
<g id="r91" transform="translate(0,862.1)"><use href="#p2"/><text x="555">E 1</text><text x="635">Spices</text><text x="727">IV</text></g>
<g id="r92" transform="translate(0,871.1)"><use href="#p9"/><text x="555">E 10</text><text x="635">Spices</text><text x="727">IV</text></g>
<g id="r93" transform="translate(0,880.1)"><use href="#p11"/><text x="555">4788</text><text x="635">Cooked poultry</text><text x="727">III</text></g>
<g id="r94" transform="translate(0,889.2)"><use href="#p1"/><text x="555">4830</text><text x="635">Dairy products</text><text x="727">III</text></g>
<g id="r95" transform="translate(0,898.2)"><use href="#p4"/><text x="555">4785</text><text x="635">Cooked food</text><text x="727">IV</text></g>
<g id="r96" transform="translate(0,907.2)"><use href="#p11"/><text x="555">4920 GC</text><text x="635">Cooked food</text><text x="727">III</text></g>
<g id="r97" transform="translate(0,916.2)"><use href="#p11"/><text x="555">4920 PC</text><text x="635">Cooked food</text><text x="727">III</text></g>
<g id="r98" transform="translate(0,925.2)"><use href="#p10"/><text x="555">4927 PC</text><text x="635">Cooked poultry</text><text x="727">IV</text></g>
<g id="r99" transform="translate(0,934.3)"><use href="#p5"/><text x="555">4851</text><text x="635">Cooked food</text><text x="727">III</text></g>
<g id="r100" transform="translate(0,943.3)"><use href="#p3"/><text x="555">500</text><text x="635">Cooked poultry</text><text x="727">IV</text></g>
<g id="r101" transform="translate(0,952.3)"><use href="#p1"/><text x="555">4855</text><text x="635">Canned products</text><text x="727">III</text></g>
<g id="r102" transform="translate(0,961.3)"><use href="#p5"/><text x="555">4950</text><text x="635">Pastry products</text><text x="727">IV</text></g>
<g id="r103" transform="translate(0,970.4)"><use href="#p9"/><text x="555">4005</text><text x="635">Pastry products</text><text x="727">III</text></g>
<g id="r104" transform="translate(0,979.4)"><use href="#p13"/><text x="555">4163</text><text x="635">Raw poulry</text><text x="727">III</text></g>
<g id="r105" transform="translate(0,988.4)"><use href="#p0"/><text x="555">159</text><text x="635">Canned products</text><text x="727">III</text></g>
<g id="r106" transform="translate(0,997.4)"><use href="#p2"/><text x="555">4160</text><text x="635">Raw poulry</text><text x="727">II</text></g>
<g id="r107" transform="translate(0,1006.4)"><use href="#p6"/><text x="555">4165</text><text x="635">Cooked food</text><text x="727">IV</text></g>
<g id="r108" transform="translate(0,1015.5)"><use href="#p13"/><text x="555">5669</text><text x="635">Pastry products</text><text x="727">IV</text></g>
<g id="r109" transform="translate(0,1024.5)"><use href="#p7"/><text x="555">4007</text><text x="635">Cooked poultry</text><text x="727">III</text></g>
<g id="r110" transform="translate(0,1033.5)"><use href="#p12"/><text x="555">4044</text><text x="635">Cooked poultry</text><text x="727">III</text></g>
<g id="r111" transform="translate(0,1042.5)"><use href="#p9"/><text x="555">2893</text><text x="635">Fresh-cut veget.</text><text x="727">III</text></g>
<g id="r112" transform="translate(0,1051.5)"><use href="#p2"/><text x="555">2900</text><text x="635">Pastry products</text><text x="727">III</text></g>
<g id="r113" transform="translate(0,1060.6)"><use href="#p11"/><text x="555">2883</text><text x="635">Cooked food</text><text x="727">III</text></g>
<g id="r114" transform="translate(0,1069.6)"><use href="#p3"/><text x="555">5666</text><text x="635">Pastry products</text><text x="727">III</text></g>
<g id="r115" transform="translate(0,1078.6)"><use href="#p6"/><text x="555">2889</text><text x="635">Pastry products</text><text x="727">II</text></g>
<g id="r116" transform="translate(0,1087.6)"><use href="#p8"/><text x="555">3041</text><text x="635">Canned products</text><text x="727">III</text></g>
<g id="r117" transform="translate(0,1096.6)"><use href="#p13"/><text x="555">2892</text><text x="635">Pastry products</text><text x="727">IV</text></g>
<g id="r118" transform="translate(0,1105.7)"><use href="#p4"/><text x="555">2975</text><text x="635">Pastry products</text><text x="727">IV</text></g>
<g id="r119" transform="translate(0,1114.7)"><use href="#p3"/><text x="555">2884</text><text x="635">Cooked food</text><text x="727">III</text></g>
<g id="r120" transform="translate(0,1123.7)"><use href="#p11"/><text x="555">2885</text><text x="635">Canned products</text><text x="727">III</text></g>
<g id="r121" transform="translate(0,1132.7)"><use href="#p6"/><text x="555">5662 13J</text><text x="635">Pastry products</text><text x="727">IV</text></g>
<g id="r122" transform="translate(0,1141.7)"><use href="#p6"/><text x="555">5662 7J</text><text x="635">Pastry products</text><text x="727">IV</text></g>
<g id="r123" transform="translate(0,1150.8)"><use href="#p1"/><text x="555">SF2 PC</text><text x="635">Cereals</text><text x="727">III</text></g>
<g id="r124" transform="translate(0,1159.8)"><use href="#p2"/><text x="555">2845</text><text x="635">Pastry products</text><text x="727">IV</text></g>
<g id="r125" transform="translate(0,1168.8)"><use href="#p11"/><text x="555">4167</text><text x="635">Cooked food</text><text x="727">III</text></g>
<g id="r126" transform="translate(0,1177.8)"><use href="#p0"/><text x="555">3942 PC</text><text x="635">Cooked food</text><text x="727">III</text></g>
<g id="r127" transform="translate(0,1186.8)"><use href="#p8"/><text x="555">4006</text><text x="635">Cooked food</text><text x="727">III</text></g>
<g id="r128" transform="translate(0,1195.9)"><use href="#p7"/><text x="555">4068 13J</text><text x="635">Cooked food</text><text x="727">III</text></g>
<g id="r129" transform="translate(0,1204.9)"><use href="#p7"/><text x="555">4068 7J</text><text x="635">Cooked food</text><text x="727">III</text></g>
<g id="r130" transform="translate(0,1213.9)"><use href="#p3"/><text x="555">4071</text><text x="635">Cooked food</text><text x="727">III</text></g>
<g id="r131" transform="translate(0,1222.9)"><use href="#p5"/><text x="555">4085</text><text x="635">Pastry products</text><text x="727">III</text></g>
<g id="r132" transform="translate(0,1232)"><use href="#p9"/><text x="555">5659</text><text x="635">Pastry products</text><text x="727">III</text></g>
<g id="r133" transform="translate(0,1241.1)"><use href="#p1"/><text x="555">P1 19J</text><text x="635">Sea Products</text><text x="727">III</text></g>
<g id="r134" transform="translate(0,1250.2)"><use href="#p1"/><text x="555">P2 7J</text><text x="635">Sea Products</text><text x="727">III</text></g>
<g id="r135" transform="translate(0,1259.3)"><use href="#p1" x="-1"/><text x="555">P1 8J</text><text x="635">Sea Products</text><text x="727">III</text></g>
<g id="r136" transform="translate(0,1268.4)"><use href="#p6"/><text x="555">5665</text><text x="635">Pastry products</text><text x="727">IV</text></g>
<g id="r137" transform="translate(0,1277.5)"><use href="#p11"/><text x="555">P3 13J</text><text x="635">Sea Products</text><text x="727">III</text></g>
<g id="r138" transform="translate(0,1286.6)"><use href="#p11" x="-3"/><text x="555">P3 7J</text><text x="635">Sea Products</text><text x="727">III</text></g>
<g id="r139" transform="translate(0,1295.7)"><use href="#p4"/><text x="555">160</text><text x="635">Cooked poultry</text><text x="727">III</text></g>
<g id="r140" transform="translate(0,1304.8)"><use href="#p13"/><text x="555">2981</text><text x="635">Cooked food</text><text x="727">III</text></g>
<g id="r141" transform="translate(0,1313.9)"><use href="#p2"/><text x="555">P2 13J</text><text x="635">Sea Products</text><text x="727">III</text></g>
<g id="r142" transform="translate(0,1323)"><use href="#p8"/><text x="555">3940 GC</text><text x="635">Pastry products</text><text x="727">III</text></g>
<g id="r143" transform="translate(0,1332)"><use href="#p8"/><text x="555">3940 PC</text><text x="635">Pastry products</text><text x="727">III</text></g>
<g id="r144" transform="translate(0,1341.1)"><use href="#p13"/><text x="555">E 19</text><text x="635">Spices</text><text x="727">III</text></g>
<g id="r145" transform="translate(0,1350.2)"><use href="#p2"/><text x="555">5657</text><text x="635">Pastry products</text><text x="727">III</text></g>
<g id="r146" transform="translate(0,1359.3)"><use href="#p3"/><text x="555">2982</text><text x="635">Cooked poultry</text><text x="727">III</text></g>
<g id="r147" transform="translate(0,1368.4)"><use href="#p12"/><text x="555">5380 7J</text><text x="635">Pastry products</text><text x="727">IV</text></g>
<g id="r148" transform="translate(0,1377.5)"><use href="#p12" x="2"/><text x="555">4927 GC</text><text x="635">Cooked poultry</text><text x="727">IV</text></g>
<g id="r149" transform="translate(0,1386.6)"><use href="#p13"/><text x="555">2873</text><text x="635">Canned products</text><text x="727">III</text></g>
<g id="r150" transform="translate(0,1395.7)"><use href="#p5" x="4"/><text x="555">3298</text><text x="635">Spices</text><text x="727">III</text></g>
<g id="r151" transform="translate(0,1404.8)"><use href="#p6"/><text x="555">3047</text><text x="635">Fresh-cut veget.</text><text x="727">IV</text></g>
<g id="r152" transform="translate(0,1413.9)"><use href="#p1"/><text x="555">3050</text><text x="635">Pastry products</text><text x="727">IV</text></g>
<g id="r153" transform="translate(0,1423)"><use href="#p10"/><text x="555">4947 GC</text><text x="635">Raw poulry</text><text x="727">III</text></g>
<g id="r154" transform="translate(0,1432)"><use href="#p9"/><text x="555">4313</text><text x="635">Cooked food</text><text x="727">IV</text></g>
<g id="r155" transform="translate(0,1441.1)"><use href="#p13"/><text x="555">4315</text><text x="635">Canned products</text><text x="727">III</text></g>
<g id="r156" transform="translate(0,1450.2)"><use href="#p2"/><text x="555">4314</text><text x="635">Cooked food</text><text x="727">III</text></g>
<g id="r157" transform="translate(0,1459.3)"><use href="#p2" x="1"/><text x="555">4316</text><text x="635">Cooked food</text><text x="727">III</text></g>
<g id="r158" transform="translate(0,1468.4)"><use href="#p4"/><text x="555">2770</text><text x="635">Cooked food</text><text x="727">IV</text></g>
<g id="r159" transform="translate(0,1477.5)"><use href="#p0"/><text x="555">C 20</text><text x="635">Cereals</text><text x="727">III</text></g>
<g id="r160" transform="translate(0,1486.6)"><use href="#p7"/><text x="555">C 28</text><text x="635">Cereals</text><text x="727">IV</text></g>
<g id="r161" transform="translate(0,1495.7)"><use href="#p3"/><text x="555">156</text><text x="635">Cooked food</text><text x="727">V</text></g>
<g id="r162" transform="translate(0,1504.8)"><use href="#p13"/><text x="555">P6</text><text x="635">Sea Products</text><text x="727">V</text></g>
<g id="r163" transform="translate(0,1513.9)"><use href="#p9"/><text x="555">P4</text><text x="635">Sea Products</text><text x="727">III</text></g>
<g id="r164" transform="translate(0,1523)"><use href="#p9" x="-2"/><text x="555">P5</text><text x="635">Sea Products</text><text x="727">III</text></g>
<g id="r165" transform="translate(0,1532)"><use href="#p10"/><text x="555">227</text><text x="635">Cooked food</text><text x="727">IV</text></g>
<g id="r166" transform="translate(0,1541.1)"><use href="#p10"/><text x="555">228</text><text x="635">Cooked food</text><text x="727">IV</text></g>
<g id="r167" transform="translate(0,1550.2)"><use href="#p2"/><text x="555">396</text><text x="635">Cooked poultry</text><text x="727">III</text></g>
<g id="r168" transform="translate(0,1559.3)"><use href="#p13"/><text x="555">4253 GC</text><text x="635">Dairy products</text><text x="727">III</text></g>
<g id="r169" transform="translate(0,1568.4)"><use href="#p13"/><text x="555">4253 PC</text><text x="635">Dairy products</text><text x="727">III</text></g>
<g id="r170" transform="translate(0,1577.5)"><use href="#p13" x="-1"/><text x="555">4220</text><text x="635">Cooked poultry</text><text x="727">III</text></g>
<g id="r171" transform="translate(0,1586.6)"><use href="#p9"/><text x="555">4309 13J</text><text x="635">Cooked food</text><text x="727">III</text></g>
<g id="r172" transform="translate(0,1595.7)"><use href="#p2"/><text x="555">4168</text><text x="635">Cooked food</text><text x="727">III</text></g>
<g id="r173" transform="translate(0,1604.8)"><use href="#p13" x="2"/><text x="555">4309 8J</text><text x="635">Cooked food</text><text x="727">III</text></g>
<g id="r174" transform="translate(0,1613.9)"><use href="#p4"/><text x="555">4171</text><text x="635">Canned products</text><text x="727">III</text></g>
</g>
</svg>
